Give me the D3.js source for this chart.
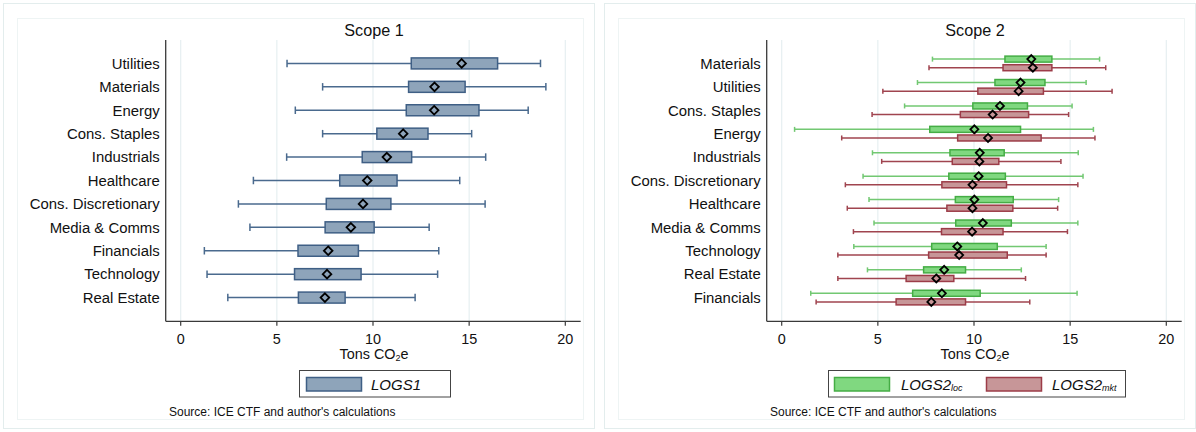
<!DOCTYPE html>
<html><head><meta charset="utf-8">
<script src="https://cdn.jsdelivr.net/npm/d3@7"></script>
<style>
html,body{margin:0;padding:0;background:#fff;}
svg{display:block;font-family:"Liberation Sans",Arial,Helvetica,sans-serif;}
</style></head>
<body><svg id="chart" width="1196" height="432"></svg>
<script>
// ---------- data ----------
const xTicks = [0, 5, 10, 15, 20];

// Scope 1
const cats1 = ["Utilities","Materials","Energy","Cons. Staples","Industrials","Healthcare","Cons. Discretionary","Media & Comms","Financials","Technology","Real Estate"];
const s1Lo  = [5.53, 7.38, 5.96, 7.38, 5.51, 3.78, 3.00, 3.60, 1.23, 1.37, 2.45];
const s1Q1  = [11.99, 11.85, 11.73, 10.20, 9.44, 8.27, 7.57, 7.51, 6.10, 5.92, 6.12];
const s1Med = [14.61, 13.20, 13.18, 11.57, 10.72, 9.70, 9.48, 8.85, 7.67, 7.61, 7.50];
const s1Q3  = [16.48, 14.79, 15.51, 12.86, 12.01, 11.25, 10.93, 10.06, 9.24, 9.38, 8.55];
const s1Hi  = [18.71, 18.99, 18.07, 15.13, 15.86, 14.51, 15.83, 12.92, 13.42, 13.36, 12.19];

// Scope 2
const cats2 = ["Materials","Utilities","Cons. Staples","Energy","Industrials","Cons. Discretionary","Healthcare","Media & Comms","Technology","Real Estate","Financials"];
const locLo  = [7.84, 7.06, 6.39, 0.67, 4.72, 4.23, 4.54, 4.80, 3.75, 4.46, 1.51];
const locQ1  = [11.61, 11.09, 9.94, 7.70, 8.75, 8.69, 9.03, 9.05, 7.80, 7.38, 6.81];
const locMed = [12.98, 12.42, 11.35, 10.02, 10.30, 10.24, 10.02, 10.46, 9.13, 8.45, 8.33];
const locQ3  = [14.05, 13.69, 12.78, 12.42, 11.57, 11.63, 12.04, 11.94, 11.21, 9.56, 10.32];
const locHi  = [16.53, 15.83, 15.10, 16.21, 15.42, 15.67, 14.40, 15.40, 13.75, 12.46, 15.36];

const mktLo  = [7.66, 5.26, 4.70, 3.12, 5.20, 3.31, 3.41, 3.73, 2.92, 2.92, 1.79];
const mktQ1  = [11.51, 10.20, 9.29, 9.15, 8.87, 8.33, 8.59, 8.31, 7.64, 6.47, 5.95];
const mktMed = [13.06, 12.32, 10.97, 10.73, 10.28, 9.92, 9.92, 9.90, 9.23, 8.04, 7.78];
const mktQ3  = [14.05, 13.61, 12.84, 13.49, 11.29, 11.69, 12.02, 11.51, 11.73, 8.95, 9.56];
const mktHi  = [16.85, 17.18, 14.92, 16.29, 14.52, 15.40, 14.35, 14.86, 13.75, 12.68, 12.90];

const titles = ["Scope 1", "Scope 2"];
const sourceText = "Source: ICE CTF and author's calculations";

// ---------- drawing ----------
const svg = d3.select("#chart");
const frameCol = "#e3eded";
const gridCol = "#e6eff1";
const axisCol = "#3a3a3a";

function series(lo,q1,med,q3,hi){ return lo.map((d,i)=>({lo:d,q1:q1[i],med:med[i],q3:q3[i],hi:hi[i]})); }

function panel(ox, title, cats, seriesList, legendItems, legendBox){
  const g = svg.append("g").attr("transform",`translate(${ox},0)`);
  g.append("rect").attr("x",3.5).attr("y",3.5).attr("width",591).attr("height",425)
    .attr("fill","#fff").attr("stroke",frameCol);
  g.append("rect").attr("x",17.5).attr("y",18.5).attr("width",566).attr("height",401)
    .attr("fill","#fff").attr("stroke","#eef4f4");

  const x = d3.scaleLinear().domain([0,20]).range([180.7,565.3]);
  const y = d3.scalePoint().domain(cats).range([40,321]).padding(1);
  const top = 40, bottom = 321.3, axL = 165.7, axR = 580.7;

  // title
  g.append("text").attr("x",374).attr("y",36).attr("text-anchor","middle")
    .attr("font-size",16.2).attr("fill","#111").text(title);

  // grid
  g.append("g").selectAll("line").data(xTicks).join("line")
    .attr("x1",d=>x(d)).attr("x2",d=>x(d)).attr("y1",top).attr("y2",bottom)
    .attr("stroke",gridCol).attr("stroke-width",1.2);

  // boxes
  seriesList.forEach(s=>{
    const sg = g.append("g");
    const data = s.data.map((d,i)=>Object.assign({cat:cats[i]},d));
    const cy = d => y(d.cat) + s.offset;
    sg.selectAll("line.wh").data(data).join("line").attr("class","wh")
      .attr("x1",d=>x(d.lo)).attr("x2",d=>x(d.hi)).attr("y1",cy).attr("y2",cy)
      .attr("stroke",s.whisker).attr("stroke-width",1.5);
    sg.selectAll("line.capl").data(data).join("line").attr("class","capl")
      .attr("x1",d=>x(d.lo)).attr("x2",d=>x(d.lo)).attr("y1",d=>cy(d)-s.cap/2).attr("y2",d=>cy(d)+s.cap/2)
      .attr("stroke",s.whisker).attr("stroke-width",1.5);
    sg.selectAll("line.caph").data(data).join("line").attr("class","caph")
      .attr("x1",d=>x(d.hi)).attr("x2",d=>x(d.hi)).attr("y1",d=>cy(d)-s.cap/2).attr("y2",d=>cy(d)+s.cap/2)
      .attr("stroke",s.whisker).attr("stroke-width",1.5);
    sg.selectAll("rect").data(data).join("rect")
      .attr("x",d=>x(d.q1)).attr("width",d=>x(d.q3)-x(d.q1))
      .attr("y",d=>cy(d)-s.h/2).attr("height",s.h)
      .attr("fill",s.fill).attr("stroke",s.stroke).attr("stroke-width",1.5);
    sg.selectAll("path").data(data).join("path")
      .attr("d",d=>{const cx=x(d.med), c=cy(d), r=s.dr; return `M${cx},${c-r}L${cx+r},${c}L${cx},${c+r}L${cx-r},${c}Z`;})
      .attr("fill","none").attr("stroke","#000").attr("stroke-width",1.8);
  });

  // axes
  g.append("line").attr("x1",axL).attr("x2",axL).attr("y1",top).attr("y2",bottom)
    .attr("stroke",axisCol).attr("stroke-width",1.3);
  g.append("line").attr("x1",axL).attr("x2",axR).attr("y1",bottom).attr("y2",bottom)
    .attr("stroke",axisCol).attr("stroke-width",1.3);
  g.append("g").selectAll("line").data(xTicks).join("line")
    .attr("x1",d=>x(d)).attr("x2",d=>x(d)).attr("y1",bottom).attr("y2",bottom+4.5)
    .attr("stroke",axisCol).attr("stroke-width",1.2);
  g.append("g").selectAll("text").data(xTicks).join("text")
    .attr("x",d=>x(d)).attr("y",344).attr("text-anchor","middle")
    .attr("font-size",14.4).attr("fill","#111").text(d=>d);
  g.append("g").selectAll("text").data(cats).join("text")
    .attr("x",axL-6).attr("y",d=>y(d)+5.3).attr("text-anchor","end")
    .attr("font-size",14.9).attr("fill","#111").text(d=>d);

  // x title
  const xt = g.append("text").attr("x",374).attr("y",359).attr("text-anchor","middle")
    .attr("font-size",14.4).attr("fill","#111");
  xt.append("tspan").text("Tons CO");
  xt.append("tspan").attr("font-size",9).attr("dy",2).text("2");
  xt.append("tspan").attr("dy",-2).text("e");

  // legend
  g.append("rect").attr("x",legendBox[0]+0.5).attr("y",370.5).attr("width",legendBox[1]-legendBox[0]).attr("height",26.5)
    .attr("fill","#fff").attr("stroke","#444").attr("stroke-width",1);
  legendItems.forEach(it=>{
    g.append("rect").attr("x",it.sx+0.5).attr("y",377.5).attr("width",55).attr("height",13.5)
      .attr("fill",it.fill).attr("stroke",it.stroke).attr("stroke-width",1.5);
    const t = g.append("text").attr("x",it.tx).attr("y",389.5).attr("font-size",15)
      .attr("font-style","italic").attr("fill","#111");
    t.append("tspan").text(it.label);
    if(it.sub) t.append("tspan").attr("font-size",9).attr("dy",1).text(it.sub);
  });

  g.append("text").attr("x",169).attr("y",416).attr("font-size",12).attr("fill","#111").text(sourceText);
}

const blue = {fill:"#8ea4ba", stroke:"#3f5f85", whisker:"#4a6a8e"};
const green = {fill:"#80d880", stroke:"#45ad45", whisker:"#72c872"};
const red = {fill:"#c79698", stroke:"#9c3c48", whisker:"#a0444f"};

panel(0, titles[0], cats1,
  [Object.assign({data:series(s1Lo,s1Q1,s1Med,s1Q3,s1Hi), offset:0, h:11, cap:7.5, dr:4.3}, blue)],
  [{sx:306, tx:371, label:"LOGS1", fill:blue.fill, stroke:blue.stroke}],
  [299, 450]);

panel(601, titles[1], cats2,
  [Object.assign({data:series(locLo,locQ1,locMed,locQ3,locHi), offset:-4.3, h:6, cap:5, dr:4}, green),
   Object.assign({data:series(mktLo,mktQ1,mktMed,mktQ3,mktHi), offset:4.3, h:6, cap:5, dr:4}, red)],
  [{sx:233, tx:300, label:"LOGS2", sub:"loc", fill:green.fill, stroke:green.stroke},
   {sx:385, tx:451, label:"LOGS2", sub:"mkt", fill:red.fill, stroke:red.stroke}],
  [227, 524]);
</script></body></html>
